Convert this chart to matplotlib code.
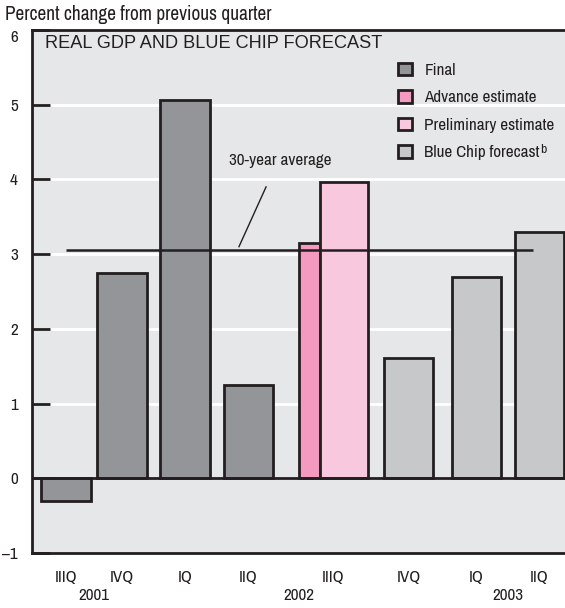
import matplotlib
matplotlib.use("Agg")
import matplotlib.pyplot as plt
from matplotlib.patches import Patch
from matplotlib import font_manager

# ---- data ----
quarters = ["IIIQ", "IVQ", "IQ", "IIQ", "IIIQ", "IVQ", "IQ", "IIQ"]
years = ["2001", "2002", "2003"]
final_values = [-0.3, 2.75, 5.06, 1.25]
advance_value = 3.15
preliminary_value = 3.96
forecast_values = [1.61, 2.70, 3.30]
average_30yr = 3.06
yticks = [-1, 0, 1, 2, 3, 4, 5, 6]
ytick_labels = ["\u20131", "0", "1", "2", "3", "4", "5", "6"]
legend_labels = ["Final", "Advance estimate", "Preliminary estimate", "Blue Chip forecast"]

# ---- layout (slot units) ----
final_pos = [0.54, 1.433, 2.433, 3.44]
advance_pos = 4.41
prelim_pos = 4.957
forecast_pos = [5.98, 7.06, 8.06]
quarter_tick_pos = [0.54, 1.433, 2.433, 3.44, 4.78, 5.98, 7.06, 8.06]
year_pos = [0.98, 4.24, 7.56]
bar_w = 0.79
adv_w = 0.33
pre_w = 0.76

names = {f.name for f in font_manager.fontManager.ttflist}
narrow = "DejaVu Sans"
for cand in ["Archivo Narrow", "Roboto Condensed", "PT Sans Narrow", "Liberation Sans Narrow",
             "Barlow Semi Condensed", "Asap Condensed"]:
    if cand in names:
        narrow = cand
        break
plt.rcParams["font.family"] = [narrow, "DejaVu Sans"]

c_final = "#939598"
c_adv = "#f49ac1"
c_pre = "#f8c9de"
c_fc = "#c7c8ca"
c_bg = "#e6e7e8"
c_edge = "#231f20"
c_text = "#231f20"
lw = 2.0

W, H = 565, 608
fig = plt.figure(figsize=(W / 100, H / 100), dpi=100)
renderer = fig.canvas.get_renderer()


def fit_size(text, target_px, family, base=12.0):
    t = fig.text(0, 0, text, fontsize=base, family=family)
    w = t.get_window_extent(renderer).width
    t.remove()
    return base * target_px / w


fs = fit_size("Advance estimate", 112, [narrow, "DejaVu Sans"])
fs_head = fit_size("Percent change from previous quarter", 267, [narrow, "DejaVu Sans"])
fs_title = fit_size("REAL GDP AND BLUE CHIP FORECAST", 338, ["Liberation Sans", "DejaVu Sans"])

ax = fig.add_axes([31.7 / W, (H - 553) / H, 1 - 31.7 / W, (553 - 30) / H])
ax.set_facecolor(c_bg)
ax.set_xlim(0, (W - 31.7) / 63)
ax.set_ylim(-1, 6)

for y in [1, 2, 3, 4, 5]:
    ax.axhline(y, color="white", lw=2, zorder=1)

ax.bar(final_pos, final_values, width=bar_w, color=c_final, edgecolor=c_edge, lw=lw, zorder=3)
ax.bar([advance_pos], [advance_value], width=adv_w, color=c_adv, edgecolor=c_edge, lw=lw, zorder=3)
ax.bar([prelim_pos], [preliminary_value], width=pre_w, color=c_pre, edgecolor=c_edge, lw=lw, zorder=3)
ax.bar(forecast_pos, forecast_values, width=bar_w, color=c_fc, edgecolor=c_edge, lw=lw, zorder=3)

ax.axhline(0, color=c_edge, lw=2, zorder=4)
ax.hlines(average_30yr, 0.54, 7.96, color=c_edge, lw=1.8, zorder=5)
ax.plot([3.29, 3.72], [3.10, 3.90], color=c_edge, lw=1.0, zorder=5)
ax.text(3.95, 4.25, "30-year average", fontsize=fs, ha="center", va="center", color=c_text, zorder=6)

ax.text(0.21, 5.93, "REAL GDP AND BLUE CHIP FORECAST", family=["Liberation Sans", "DejaVu Sans"],
        fontsize=fs_title, ha="left", va="top", color=c_text)

for s in ["left", "bottom", "top"]:
    ax.spines[s].set_color(c_edge)
    ax.spines[s].set_linewidth(2)
ax.spines["right"].set_visible(False)

ax.set_yticks(yticks)
ax.set_yticklabels(ytick_labels, fontsize=fs, color=c_text)
ax.tick_params(axis="y", direction="in", length=13, width=2, color=c_edge, pad=10)
ax.yaxis.get_major_ticks()[-1].label1.set_verticalalignment("top")
ax.set_xticks(quarter_tick_pos)
ax.set_xticklabels(quarters, fontsize=fs, color=c_text)
ax.tick_params(axis="x", length=0, pad=12)
for x, yr in zip(year_pos, years):
    ax.text(x, -1.57, yr, fontsize=fs, ha="center", va="center", color=c_text)

fig.text(5 / W, 1 - 15 / H, "Percent change from previous quarter", fontsize=fs_head,
         ha="left", va="center", color=c_text)

handles = [
    Patch(facecolor=c_final, edgecolor=c_edge, lw=lw),
    Patch(facecolor=c_adv, edgecolor=c_edge, lw=lw),
    Patch(facecolor=c_pre, edgecolor=c_edge, lw=lw),
    Patch(facecolor=c_fc, edgecolor=c_edge, lw=lw),
]
fs_px = fs * 100 / 72
hl = 13.5 / fs_px


def make_legend(spacing, top_px):
    lg = ax.legend(handles, legend_labels, loc="upper left", bbox_to_anchor=(398 / W, 1 - top_px / H),
                   bbox_transform=fig.transFigure, frameon=False, fontsize=fs,
                   handlelength=hl, handleheight=hl, handletextpad=13 / fs_px, labelspacing=spacing,
                   borderpad=0, borderaxespad=0)
    for t in lg.get_texts():
        t.set_color(c_text)
    return lg


spacing, top_px = 0.6, 58
leg = make_legend(spacing, top_px)
fig.canvas.draw()
pts = [leg.legend_handles[i].get_window_extent(renderer) for i in range(4)]
step = (pts[0].y0 - pts[3].y0) / 3
spacing += (27.5 - step) / fs_px
first_center_px = H - (pts[0].y0 + pts[0].y1) / 2
top_px += 69 - first_center_px
leg = make_legend(spacing, top_px)
fig.canvas.draw()
bb = leg.get_texts()[3].get_window_extent(renderer)
fig.text((bb.x1 + 0.5) / W, (bb.y1 + 1) / H, "b", fontsize=fs * 0.8, ha="left", va="top", color=c_text)

fig.savefig("out.png", dpi=100, facecolor="white")
